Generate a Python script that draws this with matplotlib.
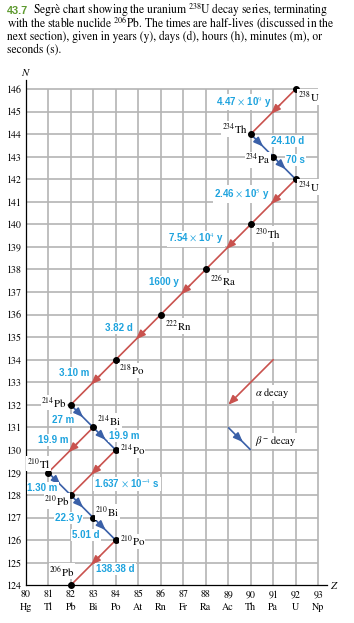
import matplotlib
matplotlib.use("Agg")
import matplotlib.pyplot as plt
import numpy as np

plt.rcParams['font.family'] = ['STIXGeneral', 'DejaVu Serif']
plt.rcParams['mathtext.fontset'] = 'stix'

# ---------------- data ----------------
nuc_names = ['238U', '234Th', '234Pa', '234U', '230Th', '226Ra', '222Rn', '218Po',
             '214Pb', '214Bi', '214Po', '210Tl', '210Pb', '210Bi', '210Po', '206Pb']
nuc_mass = [238, 234, 234, 234, 230, 226, 222, 218, 214, 214, 214, 210, 210, 210, 210, 206]
nuc_sym = ['U', 'Th', 'Pa', 'U', 'Th', 'Ra', 'Rn', 'Po', 'Pb', 'Bi', 'Po', 'Tl', 'Pb', 'Bi', 'Po', 'Pb']
nuc_Z = [92, 90, 91, 92, 90, 88, 86, 84, 82, 83, 84, 81, 82, 83, 84, 82]
nuc_N = [146, 144, 143, 142, 140, 138, 136, 134, 132, 131, 130, 129, 128, 127, 126, 124]

decay_from = ['238U', '234Th', '234Pa', '234U', '230Th', '226Ra', '222Rn', '218Po',
              '214Pb', '214Bi', '214Bi', '214Po', '210Tl', '210Pb', '210Bi', '210Po']
decay_to = ['234Th', '234Pa', '234U', '230Th', '226Ra', '222Rn', '218Po', '214Pb',
            '214Bi', '214Po', '210Tl', '210Pb', '210Pb', '210Bi', '210Po', '206Pb']
decay_type = ['a', 'b', 'b', 'a', 'a', 'a', 'a', 'a', 'b', 'b', 'a', 'a', 'b', 'b', 'b', 'a']
half_lives = [r'4.47 $\times$ 10$^9$ y', '24.10 d', '70 s', r'2.46 $\times$ 10$^5$ y',
              r'7.54 $\times$ 10$^4$ y', '1600 y', '3.82 d', '3.10 m', '27 m', '19.9 m',
              '19.9 m', r'1.637 $\times$ 10$^{-4}$ s', '1.30 m', '22.3 y', '5.01 d', '138.38 d']

z_ticks = list(range(80, 94))
elements = ['Hg', 'Tl', 'Pb', 'Bi', 'Po', 'At', 'Rn', 'Fr', 'Ra', 'Ac', 'Th', 'Pa', 'U', 'Np']
n_ticks = list(range(124, 147))

# ---------------- layout (label offsets, not data) ----------------
hl_off = [(-1.32, 0.42), (1.14, 0.21), (0.49, 0.35), (-1.39, 0.35), (-1.43, 0.35),
          (-0.85, 0.46), (-0.85, 0.42), (-0.83, 0.41), (-0.82, -0.17), (0.89, 0.13),
          (-0.76, 0.44), (1.5, -0.51), (-0.75, -0.19), (-0.58, -0.5), (-0.82, -0.27),
          (0.99, -0.28)]
lab_off = [(2, -8, 'left'), (-3, 5, 'right'), (-3, -3, 'right'), (2, -8, 'left'),
           (4, -10, 'left'), (4, -11.5, 'left'), (4, -11.5, 'left'), (3, -10.5, 'left'),
           (-4, 2.5, 'right'), (4, 7, 'left'), (4, 0, 'left'), (2, 9, 'right'),
           (-1, -6, 'right'), (2, 5.5, 'left'), (4, -1, 'left'), (4, 14, 'right')]

col_a = '#c9524e'
col_b = '#3a60a8'
col_txt = '#1ea3de'

fig = plt.figure(figsize=(3.54, 6.23), dpi=100)
ax = fig.add_axes([25.7 / 354, (623 - 585.3) / 623, (327.2 - 25.7) / 354, (585.3 - 80) / 623])
ax.set_xlim(80, 93.4)
ax.set_ylim(124, 146.4)

ax.vlines(z_ticks[1:], 124, 146, color='#b4b4b4', lw=1.2, zorder=1)
ax.hlines(n_ticks[1:], 80, 93, color='#b4b4b4', lw=1.2, zorder=1)

for s in ['top', 'right']:
    ax.spines[s].set_visible(False)
ax.spines['left'].set_linewidth(0.9)
ax.spines['bottom'].set_linewidth(0.9)

ax.set_xticks(z_ticks)
ax.set_xticklabels([f'{z}\n{e}' for z, e in zip(z_ticks, elements)], linespacing=1.45, fontsize=7.2)
ax.set_yticks(n_ticks)
ax.set_yticklabels([str(n) for n in n_ticks], fontsize=7.2)
ax.tick_params(length=0, pad=3)

idx = {n: i for i, n in enumerate(nuc_names)}


def arrow_seg(x0, y0, x1, y1, color, frac=0.55):
    ax.plot([x0, x1], [y0, y1], color=color, lw=1.2, zorder=3, solid_capstyle='butt')
    dx, dy = x1 - x0, y1 - y0
    tx, ty = x0 + frac * dx, y0 + frac * dy
    sx, sy = tx - 0.2 * dx, ty - 0.2 * dy
    ax.annotate('', xy=(tx, ty), xytext=(sx, sy),
                arrowprops=dict(arrowstyle='-|>,head_length=0.55,head_width=0.22',
                                color=color, lw=1.2, mutation_scale=10,
                                shrinkA=0, shrinkB=0), zorder=4)


for f, t, typ, hl, off in zip(decay_from, decay_to, decay_type, half_lives, hl_off):
    i, j = idx[f], idx[t]
    x0, y0, x1, y1 = nuc_Z[i], nuc_N[i], nuc_Z[j], nuc_N[j]
    arrow_seg(x0, y0, x1, y1, col_a if typ == 'a' else col_b)
    mx, my = (x0 + x1) / 2 + off[0], (y0 + y1) / 2 + off[1]
    ax.text(mx, my, hl, color=col_txt, fontsize=7.0, family='Liberation Sans', weight='bold',
            ha='center', va='center', zorder=6,
            bbox=dict(facecolor='white', edgecolor='none', pad=0.6))

ax.plot(nuc_Z, nuc_N, 'o', color='black', ms=4, zorder=7, clip_on=False)

for m, s, z, n, (ox, oy, ha) in zip(nuc_mass, nuc_sym, nuc_Z, nuc_N, lab_off):
    ax.annotate(f'$^{{{m}}}$' + s, xy=(z, n), xytext=(ox, oy), textcoords='offset pixels',
                ha=ha, va='center', fontsize=7.8, zorder=8,
                bbox=dict(facecolor='white', edgecolor='none', pad=0.3))

# legend
ax.annotate('', xy=(89, 132), xytext=(91, 134),
            arrowprops=dict(arrowstyle='-|>,head_length=0.55,head_width=0.22', color=col_a,
                            lw=1.2, mutation_scale=10, shrinkA=0, shrinkB=0), zorder=4)
ax.text(90.2, 132.52, r'$\alpha$ decay', fontsize=7.6, ha='left', va='center', zorder=6,
        bbox=dict(facecolor='white', edgecolor='none', pad=0.5))
arrow_seg(89, 131, 90, 130, col_b, frac=0.65)
ax.text(90.2, 130.4, r'$\beta^{-}$ decay',
        fontsize=7.6, ha='left', va='center', zorder=6,
        bbox=dict(facecolor='white', edgecolor='none', pad=0.5))

fig.text(333 / 354, 1 - 586 / 623, 'Z', fontsize=7.8, ha='center', va='center', style='italic')
fig.text(25 / 354, 1 - 73 / 623, 'N', fontsize=7.8, ha='center', va='center', style='italic')

# caption
cap_fs = 8.3
fig.text(7 / 354, 1 - 14.3 / 623, '43.7', fontsize=7.8, color='#5e9a30', weight='bold',
         family='Liberation Sans', ha='left', va='baseline')
fig.text(33 / 354, 1 - 14.3 / 623, r'Segrè chart showing the uranium $^{238}$U decay series, terminating',
         fontsize=cap_fs, ha='left', va='baseline')
fig.text(7 / 354, 1 - 27 / 623, r'with the stable nuclide $^{206}$Pb. The times are half-lives (discussed in the',
         fontsize=cap_fs, ha='left', va='baseline')
fig.text(7 / 354, 1 - 39.7 / 623, 'next section), given in years (y), days (d), hours (h), minutes (m), or',
         fontsize=cap_fs, ha='left', va='baseline')
fig.text(7 / 354, 1 - 52.4 / 623, 'seconds (s).', fontsize=cap_fs, ha='left', va='baseline')

fig.savefig('out.png', dpi=100)
